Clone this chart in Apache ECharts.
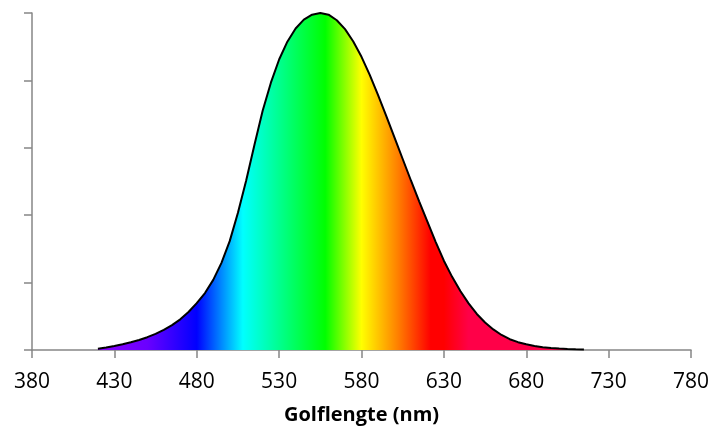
<!DOCTYPE html>
<html>
<head>
<meta charset="utf-8">
<script src="https://cdn.jsdelivr.net/npm/echarts@6/dist/echarts.min.js"></script>
<style>
  html, body { margin: 0; padding: 0; background: #ffffff; }
  #chart { width: 712px; height: 428px; }
</style>
</head>
<body>
<div id="chart"></div>
<script>
// Wavelengths (nm)
const wavelengths = [420, 425, 430, 435, 440, 445, 450, 455, 460, 465, 470, 475, 480, 485, 490, 495,
  500, 505, 510, 515, 520, 525, 530, 535, 540, 545, 550, 555, 560, 565, 570, 575, 580, 585, 590, 595,
  600, 605, 610, 615, 620, 625, 630, 635, 640, 645, 650, 655, 660, 665, 670, 675, 680, 685, 690, 695,
  700, 705, 710, 715];
// Relative luminosity (peak = 1)
const luminosity = [0.004, 0.0073, 0.0116, 0.0168, 0.023, 0.0298, 0.038, 0.048, 0.060, 0.0739, 0.091, 0.1126,
  0.139, 0.169, 0.208, 0.2586, 0.323, 0.4073, 0.503, 0.6082, 0.710, 0.7932, 0.862, 0.9149, 0.954, 0.9803,
  0.995, 1.0, 0.995, 0.9786, 0.952, 0.9154, 0.870, 0.8163, 0.757, 0.6949, 0.631, 0.5668, 0.503, 0.4412,
  0.381, 0.321, 0.265, 0.217, 0.175, 0.1382, 0.107, 0.0816, 0.061, 0.0446, 0.032, 0.0232, 0.017, 0.0119,
  0.0082, 0.0057, 0.0041, 0.0029, 0.0021, 0.0015];
// Axis ticks
const xTicks = [380, 430, 480, 530, 580, 630, 680, 730, 780];
const xTitle = 'Golflengte (nm)';
// Spectrum colours of the fill (wavelength, colour)
const spectrumNm = [420, 450, 480, 508, 533, 558, 580, 602, 622, 630, 645, 715];
const spectrumColors = ['#8c00ff', '#6a00ff', '#0000ff', '#00ffff', '#00ff80', '#00ff00', '#ffff00',
  '#ff8000', '#ff0000', '#ff0000', '#ff0048', '#ff0048'];

const lo = wavelengths[0], hi = wavelengths[wavelengths.length - 1];
const stops = spectrumNm.map((nm, i) => ({ offset: (nm - lo) / (hi - lo), color: spectrumColors[i] }));

const chart = echarts.init(document.getElementById('chart'), null, { renderer: 'canvas' });
chart.setOption({
  animation: false,
  backgroundColor: '#ffffff',
  grid: { left: 32, right: 21, top: 13, bottom: 78, containLabel: false, outerBoundsMode: 'none' },
  xAxis: {
    type: 'value',
    min: xTicks[0],
    max: xTicks[xTicks.length - 1],
    interval: 50,
    name: xTitle,
    nameLocation: 'middle',
    nameGap: 55,
    nameTextStyle: { fontFamily: 'Open Sans', fontWeight: 'bold', fontSize: 20, color: '#000000' },
    axisLine: { lineStyle: { color: '#868686', width: 1.5 } },
    axisTick: { show: true, inside: false, length: 8, lineStyle: { color: '#868686', width: 1.5 } },
    axisLabel: { fontFamily: 'Open Sans', fontSize: 21, color: '#000000', margin: 22 },
    splitLine: { show: false }
  },
  yAxis: {
    type: 'value',
    min: 0,
    max: 1,
    interval: 0.2,
    axisLine: { show: true, lineStyle: { color: '#868686', width: 1.5 } },
    axisTick: { show: true, inside: false, length: 8, lineStyle: { color: '#868686', width: 1.5 } },
    axisLabel: { show: false },
    splitLine: { show: false }
  },
  series: [{
    type: 'line',
    data: wavelengths.map((w, i) => [w, luminosity[i]]),
    showSymbol: false,
    symbol: 'none',
    smooth: false,
    lineStyle: { color: '#000000', width: 2 },
    areaStyle: {
      opacity: 1,
      color: new echarts.graphic.LinearGradient(0, 0, 1, 0, stops)
    }
  }]
});
</script>
</body>
</html>
